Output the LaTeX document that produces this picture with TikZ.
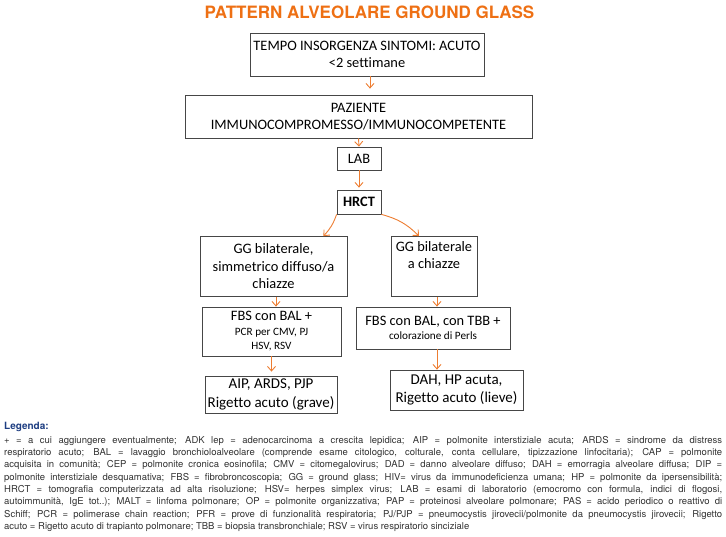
\documentclass[tikz,border=0pt]{standalone}
\usepackage{fontspec}
\setmainfont{TeX Gyre Heros}
\newfontfamily\calibri{Carlito}[Ligatures=NoCommon]
\usepackage{xcolor}
\usetikzlibrary{arrows.meta}
\definecolor{titleorange}{RGB}{238,112,20}
\definecolor{arroworange}{RGB}{237,125,49}
\definecolor{boxline}{RGB}{70,70,70}
\definecolor{legendblue}{RGB}{30,62,130}
\definecolor{legendtext}{RGB}{50,50,50}
\tikzstyle{step box}=[draw=boxline, line width=0.8pt, align=center, inner sep=2pt, font=\calibri\fontsize{14.4}{17.5}\selectfont]
\tikzset{flow/.style={-{Straight Barb[length=4.5pt,width=8pt]}, line width=0.9pt, color=arroworange}}
\newcommand{\smalltxt}{\fontsize{11.2}{15}\selectfont}

\begin{document}
\begin{tikzpicture}[x=1pt,y=-1pt]
  \useasboundingbox (0,0) rectangle (726,536);
  \draw (369.5,12) node[font=\bfseries\fontsize{17}{17}\selectfont, text=titleorange] (title) {PATTERN ALVEOLARE GROUND GLASS};

  \draw (367,54.5) node[step box, minimum width=234pt, minimum height=43pt] (tempo) {TEMPO INSORGENZA SINTOMI: ACUTO\\<2 settimane};
  \draw (358.5,116.5) node[step box, minimum width=347pt, minimum height=43pt] (paziente) {PAZIENTE\\IMMUNOCOMPROMESSO/IMMUNOCOMPETENTE};
  \draw (359,158.5) node[step box, minimum width=44pt, minimum height=23pt] (lab) {LAB};
  \draw (359,202) node[step box, minimum width=44pt, minimum height=24pt] (hrct) {\bfseries HRCT};

  \draw (273.5,266.5) node[step box, minimum width=147pt, minimum height=60pt] (ggl) {GG bilaterale,\\simmetrico diffuso/a\\chiazze};
  \draw (434,266.5) node[step box, minimum width=86pt, minimum height=60pt] (ggr) {GG bilaterale\\a chiazze\\ \strut};

  \draw (271.5,331.5) node[step box, minimum width=139pt, minimum height=49pt] (fbsl) {FBS con BAL +\\[-3pt]{\smalltxt PCR per CMV, PJ}\\[-3pt]{\smalltxt HSV, RSV}};
  \draw (433,328) node[step box, minimum width=154pt, minimum height=42pt] (fbsr) {FBS con BAL, con TBB +\\[-3pt]{\smalltxt colorazione di Perls}};

  \draw (271,394.5) node[step box, font=\calibri\fontsize{15}{18.5}\selectfont, minimum width=132pt, minimum height=37pt] (aip) {AIP, ARDS, PJP\\Rigetto acuto (grave)};
  \draw (456.5,390) node[step box, font=\calibri\fontsize{15}{18.5}\selectfont, minimum width=133pt, minimum height=40pt] (dah) {DAH, HP acuta,\\Rigetto acuto (lieve)};

  %% Arrows
  \draw[flow, shorten >=6pt] ([xshift=3pt]tempo.south) -- ([xshift=3pt]tempo.south |- paziente.north);
  \draw[flow] (paziente.south) -- (lab.north);
  \draw[flow, shorten >=2pt] (lab.south) -- (hrct.north);
  \draw[flow] (hrct.south west) to[bend left=12] ([xshift=-24pt]ggl.north east);
  \draw[flow] (hrct.south east) to[bend left=15] ([xshift=-15pt]ggr.north);
  \draw[flow] ([xshift=2.5pt]ggl.south) -- ([xshift=4.5pt]fbsl.north);
  \draw[flow] ([xshift=3pt]ggr.south) -- ([xshift=4pt]fbsr.north);
  \draw[flow, shorten >=4pt] (fbsl.south) -- (fbsl.south |- aip.north);
  \draw[flow] ([xshift=4pt]fbsr.south) -- ([xshift=4pt]fbsr.south |- dah.north);

  %% Legend things
  \draw (4,422) node[anchor=north west, inner sep=0pt, font=\bfseries\fontsize{10}{12}\selectfont, text=legendblue] (legenda) {Legenda:};
  \draw (4,436) node[anchor=north west, inner sep=0pt, text width=718pt, align=justify, text=legendtext, font=\fontsize{9.5}{12.3}\selectfont] (legend) {+ = a cui aggiungere eventualmente; ADK lep = adenocarcinoma a crescita lepidica; AIP = polmonite interstiziale acuta; ARDS = sindrome da distress\linebreak
respiratorio acuto; BAL = lavaggio bronchioloalveolare (comprende esame citologico, colturale, conta cellulare, tipizzazione linfocitaria); CAP = polmonite\linebreak
acquisita in comunità; CEP = polmonite cronica eosinofila; CMV = citomegalovirus; DAD = danno alveolare diffuso; DAH = emorragia alveolare diffusa; DIP =\linebreak
polmonite interstiziale desquamativa; FBS = fibrobroncoscopia; GG = ground glass; HIV= virus da immunodeficienza umana; HP = polmonite da ipersensibilità;\linebreak
HRCT = tomografia computerizzata ad alta risoluzione; HSV= herpes simplex virus; LAB = esami di laboratorio (emocromo con formula, indici di flogosi,\linebreak
autoimmunità, IgE tot..); MALT = linfoma polmonare; OP = polmonite organizzativa; PAP = proteinosi alveolare polmonare; PAS = acido periodico o reattivo di\linebreak
Schiff; PCR = polimerase chain reaction; PFR = prove di funzionalità respiratoria; PJ/PJP = pneumocystis jirovecii/polmonite da pneumocystis jirovecii; Rigetto\linebreak
acuto = Rigetto acuto di trapianto polmonare; TBB = biopsia transbronchiale; RSV = virus respiratorio sinciziale\par};
\end{tikzpicture}
\end{document}
